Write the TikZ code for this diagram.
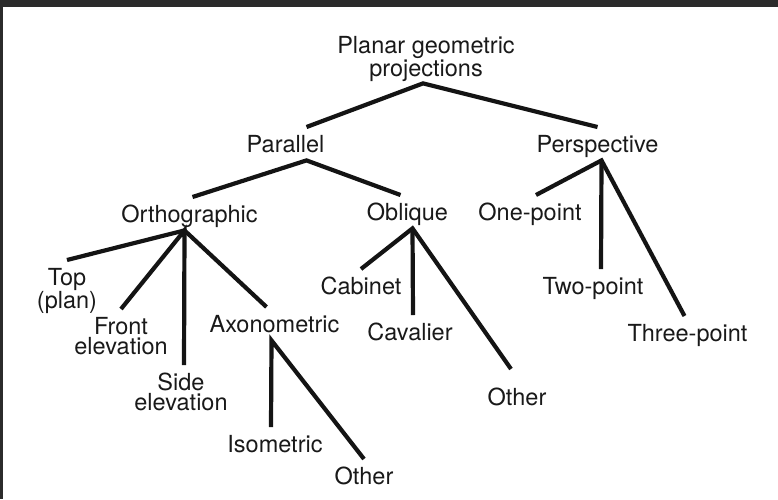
\documentclass[tikz,border=0pt]{standalone}
\usepackage{fontspec}
\setmainfont{TeX Gyre Heros}

\tikzset{
    words/.style={font=\fontsize{23.5}{20}\selectfont, text=black!90,
        inner xsep=2pt, inner ysep=8pt, anchor=north, align=center},
    term/.style={words, text height=17pt, text depth=0pt},
    branch/.style={line width=4.2pt, black!92}
}

\begin{document}
\begin{tikzpicture}[x=1pt, y=-1pt]
    \useasboundingbox (0,0) rectangle (778,499);
    \fill[black!83] (0,0) rectangle (778,7);
    \fill[black!83] (0,0) rectangle (3,499);

    % levels from top to bottom
    \node[words] (planar)      at (426,28)    {Planar geometric\\projections};
    \node[term]  (parallel)    at (285.5,127) {Parallel};
    \node[term]  (perspective) at (597.5,127) {Perspective};
    \node[term]  (ortho)       at (189.5,197) {Orthographic};
    \node[term]  (oblique)     at (407.5,195) {Oblique};
    \node[term]  (onept)       at (530,195)   {One-point};
    \node[words] (toplan)      at (67,260)    {Top\\(plan)};
    \node[words] (front)       at (121,309)   {Front\\elevation};
    \node[words] (side)        at (181,365)   {Side\\elevation};
    \node[term]  (axono)       at (274.5,307) {Axonometric};
    \node[term]  (cabinet)     at (361,269)   {Cabinet};
    \node[term]  (cavalier)    at (410,315)   {Cavalier};
    \node[term]  (obliqother)  at (517,380)   {Other};
    \node[term]  (twopt)       at (593,269)   {Two-point};
    \node[term]  (threept)     at (687.5,316) {Three-point};
    \node[term]  (isometric)   at (275,427)   {Isometric};
    \node[term]  (axonother)   at (364,459)   {Other};

    \draw[branch] ([xshift=21pt]parallel.north) -- ([xshift=-3pt,yshift=6pt]planar.south) -- (perspective.north);
    \draw[branch] ([xshift=3pt]ortho.north) -- ([xshift=21pt]parallel.south) -- ([xshift=-7pt]oblique.north);
    \draw[branch] ([xshift=6pt]onept.north) -- ([xshift=4pt]perspective.south) -- ([xshift=-3pt]threept.north);
    \draw[branch] ([xshift=4pt]perspective.south) -- ([xshift=8pt]twopt.north);
    \draw[branch] (toplan.north) -- ([xshift=-5pt]ortho.south) -- ([xshift=-8pt]axono.north);
    \draw[branch] (front.north) -- ([xshift=-5pt]ortho.south) -- ([xshift=3pt]side.north);
    \draw[branch] (cabinet.north) -- ([xshift=5pt]oblique.south) -- ([xshift=-6pt,yshift=11pt]obliqother.north);
    \draw[branch] ([xshift=5pt]oblique.south) -- ([xshift=3pt]cavalier.north);
    \draw[branch] ([xshift=-4pt]isometric.north) -- ([xshift=-3pt]axono.south) -- (axonother.north);
\end{tikzpicture}
\end{document}
